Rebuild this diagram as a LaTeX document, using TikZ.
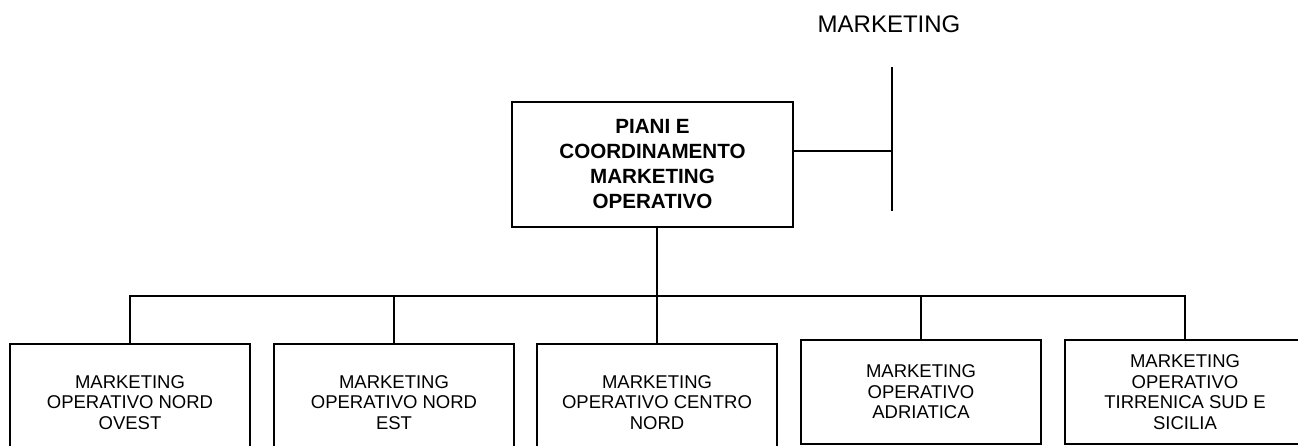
\documentclass[tikz,border=0pt]{standalone}
\usepackage{fontspec}
\setmainfont{Liberation Sans}
\begin{document}
\begin{tikzpicture}
[x=1pt,y=-1pt,line width=1.8pt,
headbox/.style={rectangle,draw=black,line width=1.8pt,minimum width=281pt,minimum height=125pt,inner sep=0pt,align=center,font=\fontsize{20.6}{25}\selectfont\bfseries},
unitbox/.style={rectangle,draw=black,line width=1.8pt,minimum width=240pt,inner sep=0pt,anchor=north,align=center,font=\fontsize{18.5}{20.5}\selectfont}]
\useasboundingbox (0,0) rectangle (1298,445);
\node (mkt) at (889,24) [inner sep=0pt,font=\fontsize{24}{28}\selectfont] {MARKETING};
\coordinate (ltop) at (892,67);
\coordinate (lmid) at (892,151);
\coordinate (lbot) at (892,211);
\node (piani) at (652.5,164.5) [headbox] {PIANI E\\COORDINAMENTO\\MARKETING\\OPERATIVO};
\draw (ltop) -- (lbot);
\draw (piani.east |- lmid) -- (lmid);
\node (ovest) at (130,343) [unitbox,minimum height=117pt] {MARKETING\\OPERATIVO NORD\\OVEST};
\node (est) at (394,343) [unitbox,minimum height=117pt] {MARKETING\\OPERATIVO NORD\\EST};
\node (centro) at (657,343) [unitbox,minimum height=117pt] {MARKETING\\OPERATIVO CENTRO\\NORD};
\node (adriatica) at (921,339) [unitbox,minimum height=104pt] {MARKETING\\OPERATIVO\\ADRIATICA};
\node (tirrenica) at (1185,339) [unitbox,minimum height=104pt] {MARKETING\\OPERATIVO\\TIRRENICA SUD E\\SICILIA};
\coordinate (bus) at (0,296);
\draw (ovest.north) -- (ovest.north |- bus) -- (tirrenica.north |- bus) -- (tirrenica.north);
\foreach \u in {est,adriatica}
  \draw (\u.north) -- (\u.north |- bus);
\draw (piani.south -| centro.north) -- (centro.north);
\end{tikzpicture}
\end{document}
